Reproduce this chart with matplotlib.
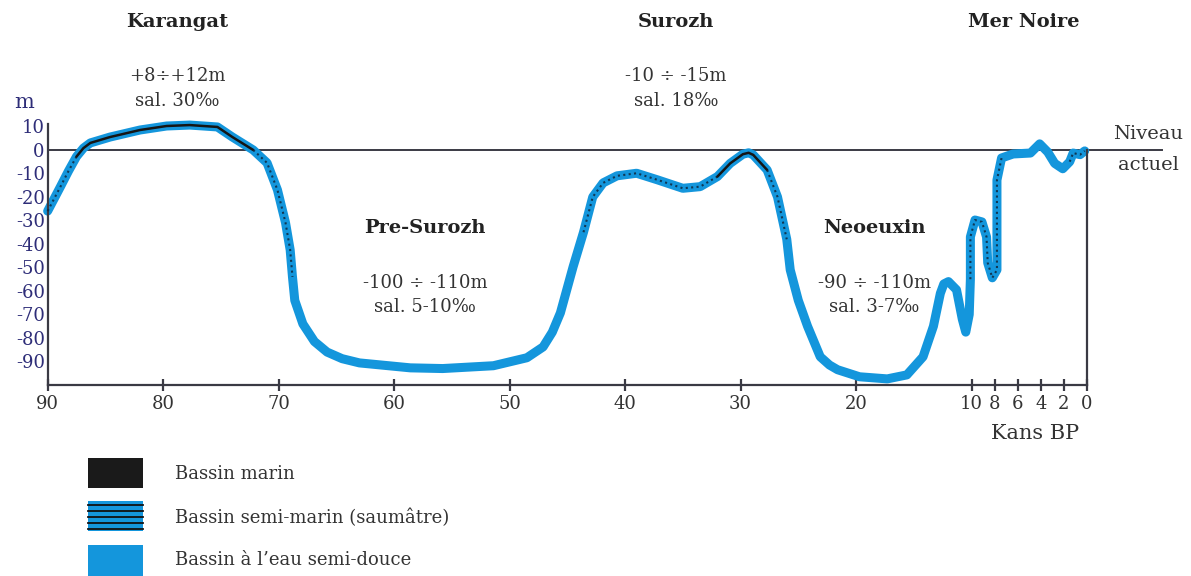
import matplotlib
matplotlib.use("Agg")
import matplotlib.pyplot as plt
from matplotlib.patches import Rectangle

# Courbe du niveau de la mer Noire (ka BP, m)
t_ka = [90.0, 88.9, 88.2, 87.5, 86.9, 86.3, 84.6, 82.0, 79.7, 77.7,
        75.3, 74.0, 72.2, 71.0, 70.1, 69.4, 69.0, 68.8, 68.6, 67.9,
        66.9, 65.8, 64.5, 63.0, 58.6, 55.8, 51.4, 48.5, 47.1, 46.3,
        45.6, 44.5, 43.6, 42.8, 41.9, 40.7, 39.0, 37.2, 35.0, 33.5,
        32.0, 30.9, 29.8, 29.3, 28.9, 27.7, 26.8, 26.0, 25.7, 25.0,
        24.2, 23.1, 22.3, 21.6, 19.7, 17.3, 15.6, 14.2, 13.3, 12.7,
        12.4, 12.0, 11.3, 10.8, 10.5, 10.2, 10.1, 10.1, 9.7, 9.1,
        8.7, 8.6, 8.2, 7.8, 7.8, 7.8, 7.4, 6.4, 4.9, 4.1,
        3.4, 2.8, 2.1, 1.5, 1.2, 0.6, 0.2]
niveau_m = [-26, -15.7, -9, -2.8, 0.8, 3.0, 5.5, 8.5, 10.2, 10.6,
            9.8, 5.5, 0.0, -5.5, -17, -31, -42.5, -54, -64, -74,
            -81.5, -86, -88.8, -90.6, -92.7, -93, -91.8, -88.4, -83.8, -77.5,
            -69.3, -49.7, -35, -20, -14, -11, -9.9, -12.7, -16.3, -15.6,
            -11.3, -5.7, -1.8, -1.2, -2.1, -8.5, -20, -38, -51, -64,
            -75, -88, -91.5, -93.5, -96.5, -97.4, -95.7, -88, -75, -61,
            -57, -56, -59.5, -72, -77.5, -70, -55, -37, -29.8, -30.6,
            -37, -48, -54.4, -51, -34, -12.8, -3.4, -1.7, -1.3, 2.6,
            -0.9, -5.7, -8, -5, -1.3, -2, -0.4]
# type de bassin pour le segment qui part de chaque point
# M = marin, S = semi-marin (saumatre), D = eau semi-douce
bassin = (["S"] * 3 + ["M"] * 9 + ["S"] * 5 + ["D"] * 15 + ["S"] * 8 +
          ["M"] * 5 + ["S"] * 2 + ["D"] * 19 + ["S"] * 10 + ["D"] * 7 + ["S"] * 4)

x_ticks = [90, 80, 70, 60, 50, 40, 30, 20, 10, 8, 6, 4, 2, 0]
y_ticks = [10, 0, -10, -20, -30, -40, -50, -60, -70, -80, -90]

periodes = ["Karangat", "Surozh", "Mer Noire"]
periodes_t = [78.8, 35.6, 5.5]
periodes_info = ["+8÷+12m\nsal. 30‰", "-10 ÷ -15m\nsal. 18‰", ""]
regressions = ["Pre-Surozh", "Neoeuxin"]
regressions_t = [57.3, 18.4]
regressions_info = ["-100 ÷ -110m\nsal. 5-10‰", "-90 ÷ -110m\nsal. 3-7‰"]

legende = ["Bassin marin", "Bassin semi-marin (saumâtre)", "Bassin à l’eau semi-douce"]

BLEU = "#1496dc"
NAVY = "#2e2d78"
GRIS = "#3a3a44"
FONT = "DejaVu Serif"

plt.rcParams["font.family"] = FONT

fig = plt.figure(figsize=(11.91, 5.76), dpi=100)
ax = fig.add_axes([0.040, 0.3316, 0.8727, 0.4529])
ax.set_xlim(90, 0)
ax.set_ylim(-100, 11)

# ligne de base (niveau actuel)
ax.plot([90, -6.5], [0, 0], color=GRIS, lw=1.4, clip_on=False, zorder=1)

# courbe bleue
ax.plot(t_ka, niveau_m, color=BLEU, lw=6.5, solid_capstyle="round",
        solid_joinstyle="round", clip_on=False, zorder=2)

# surcharges noires par segment
i = 0
n = len(t_ka)
while i < n - 1:
    k = bassin[i]
    j = i
    while j < n - 1 and bassin[j] == k:
        j += 1
    xs = t_ka[i:j + 1]
    ys = niveau_m[i:j + 1]
    if k == "M":
        ax.plot(xs, ys, color="#151515", lw=1.8, solid_capstyle="round",
                solid_joinstyle="round", clip_on=False, zorder=3)
    elif k == "S":
        ax.plot(xs, ys, color="#10263c", lw=1.5, linestyle=(0, (1.0, 1.6)),
                alpha=0.85, clip_on=False, zorder=3)
    i = j

ax.spines["top"].set_visible(False)
ax.spines["left"].set_bounds(-100, 11)
ax.spines["right"].set_bounds(-100, 0)
for s in ["left", "right", "bottom"]:
    ax.spines[s].set_color(GRIS)
    ax.spines[s].set_linewidth(1.6)

ax.set_xticks(x_ticks)
ax.set_xticklabels([str(v) for v in x_ticks], fontsize=13, color="#333333")
ax.set_yticks(y_ticks)
ax.set_yticklabels([str(v) for v in y_ticks], fontsize=13, color=NAVY)
ax.tick_params(axis="x", direction="inout", length=9, width=1.6, color=GRIS, pad=3)
ax.tick_params(axis="y", length=0, pad=2)

ax.text(92.0, 20, "m", fontsize=15, color=NAVY, ha="center", va="center")
ax.text(4.5, -120.5, "Kans BP", fontsize=15, color="#333333", ha="center", va="center")
ax.text(-5.3, 7.0, "Niveau", fontsize=14, color="#333333", ha="center", va="center")
ax.text(-5.3, -6.5, "actuel", fontsize=14, color="#333333", ha="center", va="center")

for nom, t, info in zip(periodes, periodes_t, periodes_info):
    ax.text(t, 54.4, nom, fontsize=14, fontweight="bold", ha="center", va="center", color="#222222")
    if info:
        ax.text(t, 26.2, info, fontsize=13, ha="center", va="center", color="#333333",
                linespacing=1.45)

for nom, t, info in zip(regressions, regressions_t, regressions_info):
    ax.text(t, -33.2, nom, fontsize=14, fontweight="bold", ha="center", va="center", color="#222222")
    ax.text(t, -61.6, info, fontsize=13, ha="center", va="center", color="#333333",
            linespacing=1.45)

# legende (coordonnees en pixels)
leg = fig.add_axes([0, 0, 1, 1])
leg.set_xlim(0, 1191)
leg.set_ylim(576, 0)
leg.axis("off")
leg.patch.set_visible(False)

leg.add_patch(Rectangle((88, 458), 55, 30, facecolor="#1a1a1a", edgecolor="none"))
leg.add_patch(Rectangle((88, 501), 55, 30, facecolor=BLEU, edgecolor="none"))
for yy in [505, 511, 517, 523, 529]:
    leg.plot([88, 143], [yy, yy], color="#111111", lw=1.3)
leg.add_patch(Rectangle((88, 545), 55, 31, facecolor=BLEU, edgecolor="none"))
for txt, yy in zip(legende, [474, 518, 560]):
    leg.text(175, yy, txt, fontsize=13, color="#333333", va="center", ha="left")

fig.savefig("out.png", dpi=100)
